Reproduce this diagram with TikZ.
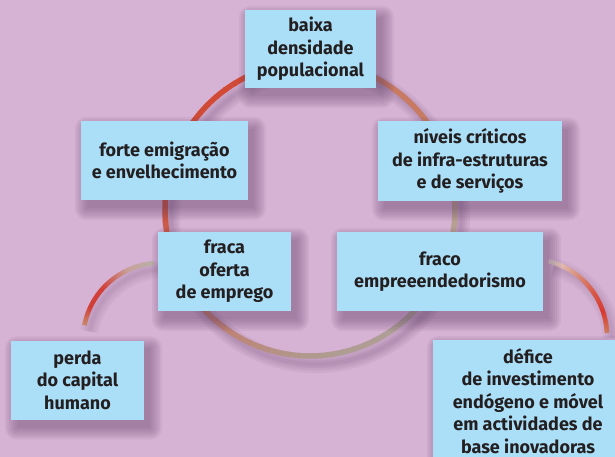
\documentclass[tikz,border=0pt]{standalone}
\usepackage{fontspec}
\setmainfont{Fira Sans}
\usetikzlibrary{calc}
\definecolor{bgc}{HTML}{D6B2D4}
\definecolor{boxc}{HTML}{ABDFF8}
\definecolor{txtc}{HTML}{231F20}
\definecolor{shc}{HTML}{5A3A62}
\definecolor{cR}{HTML}{D04A35}
\definecolor{cS}{HTML}{C87A62}
\definecolor{cG}{HTML}{B8A090}
\definecolor{cGg}{HTML}{AEA098}
\definecolor{cB}{HTML}{B09A90}
\definecolor{cL}{HTML}{C08070}
\definecolor{cM}{HTML}{CC5540}
\definecolor{lA}{HTML}{C88A6A}
\definecolor{lB}{HTML}{D04038}
\definecolor{lC}{HTML}{D85A48}
\definecolor{lD}{HTML}{C8A098}
\definecolor{lE}{HTML}{B8B0A8}
\definecolor{rA}{HTML}{E8DCD4}
\definecolor{rB}{HTML}{D89888}
\definecolor{rC}{HTML}{D85A48}
\definecolor{rD}{HTML}{D83A30}
\definecolor{rE}{HTML}{D07858}
\pgfdeclarelayer{back}
\pgfdeclarelayer{shade}
\pgfsetlayers{back,shade,main}
\tikzset{
  box/.style={fill=boxc, text=txtc, inner sep=0pt, align=center,
    font=\fontsize{18}{22.5}\selectfont\bfseries},
}
% gradient arc: #1 centre, #2 x radius, #3 y radius, #4 line width, #5 stops a/ca/b/cb
\newcommand\garc[5]{%
  \foreach \sa/\ca/\sb/\cb in {#5}{%
    \foreach \i in {0,...,9}{%
      \pgfmathsetmacro\aa{\sa+(\sb-\sa)*\i/10}%
      \pgfmathsetmacro\ab{\sa+(\sb-\sa)*(\i+1)/10+0.6}%
      \pgfmathtruncatemacro\pp{\i*10+5}%
      \draw[line width=#4, draw=\cb!\pp!\ca] #1 ++(\aa:#2 and #3) arc[start angle=\aa, end angle=\ab, x radius=#2, y radius=#3];
    }}}
\newcommand\boxshadow[1]{%
  \foreach \k in {0,2,...,12}{%
    \fill[shc, fill opacity=0.07, rounded corners=\k pt]
      ($(#1.north west)+(6-\k,8-\k)$) rectangle ($(#1.south east)+(6+\k,8+\k)$);
  }}
\begin{document}
\begin{tikzpicture}[x=1pt,y=1pt,yscale=-1]
\useasboundingbox (0,0) rectangle (615,457);

\node[box, minimum width=131pt, minimum height=78pt] (A) at (310.5,49) {baixa\\densidade\\populacional};
\node[box, minimum width=167pt, minimum height=79pt] (B) at (164.5,160.5) {forte emigração\\e envelhecimento};
\node[box, minimum width=184pt, minimum height=79pt] (C) at (470,161) {níveis críticos\\de infra-estruturas\\e de serviços};
\node[box, minimum width=133pt, minimum height=79pt] (D) at (224.5,271.5) {fraca\\oferta\\de emprego};
\node[box, minimum width=206pt, minimum height=79pt] (E) at (440,271.5) {fraco\\empreeendedorismo};
\node[box, minimum width=133pt, minimum height=79pt] (F) at (77.5,380) {perda\\do capital\\humano};
\node[box, minimum width=190pt, minimum height=122pt] (G) at (528,401) {défice\\de investimento\\endógeno e móvel\\em actividades de\\base inovadoras};

\begin{pgfonlayer}{back}
  \fill[bgc] (0,0) rectangle (615,457);
  % shadows of the arcs
  \foreach \w in {18,13,8,4}{
    \draw[shc, opacity=0.07, line width=\w pt] (316,217) ellipse [x radius=145, y radius=147];
    \draw[shc, opacity=0.05, line width=\w pt] (165,346) ++(191:77) arc[start angle=191, end angle=265, radius=77];
    \draw[shc, opacity=0.05, line width=\w pt] (535,342) ++(284:77) arc[start angle=284, end angle=357, radius=77];
  }
  % main cycle
  \garc{(310,209)}{145}{147}{5.5pt}{270/cS/320/cS, 320/cS/360/cG, 360/cG/405/cGg, 405/cGg/450/cB, 450/cB/490/cL, 490/cL/540/cM, 540/cM/585/cR, 585/cR/630/cR}
  % left small arc
  \garc{(160,340)}{77}{77}{4.5pt}{191/lA/205/lB, 205/lB/222/lB, 222/lB/245/lD, 245/lD/265/lE}
  % right small arc
  \garc{(530,336)}{77}{77}{4.5pt}{284/rA/305/rB, 305/rB/325/rC, 325/rC/342/rD, 342/rD/357/rE}
\end{pgfonlayer}

\begin{pgfonlayer}{shade}
  \boxshadow{A}\boxshadow{B}\boxshadow{C}\boxshadow{D}
  \boxshadow{E}\boxshadow{F}\boxshadow{G}
\end{pgfonlayer}
\end{tikzpicture}
\end{document}
